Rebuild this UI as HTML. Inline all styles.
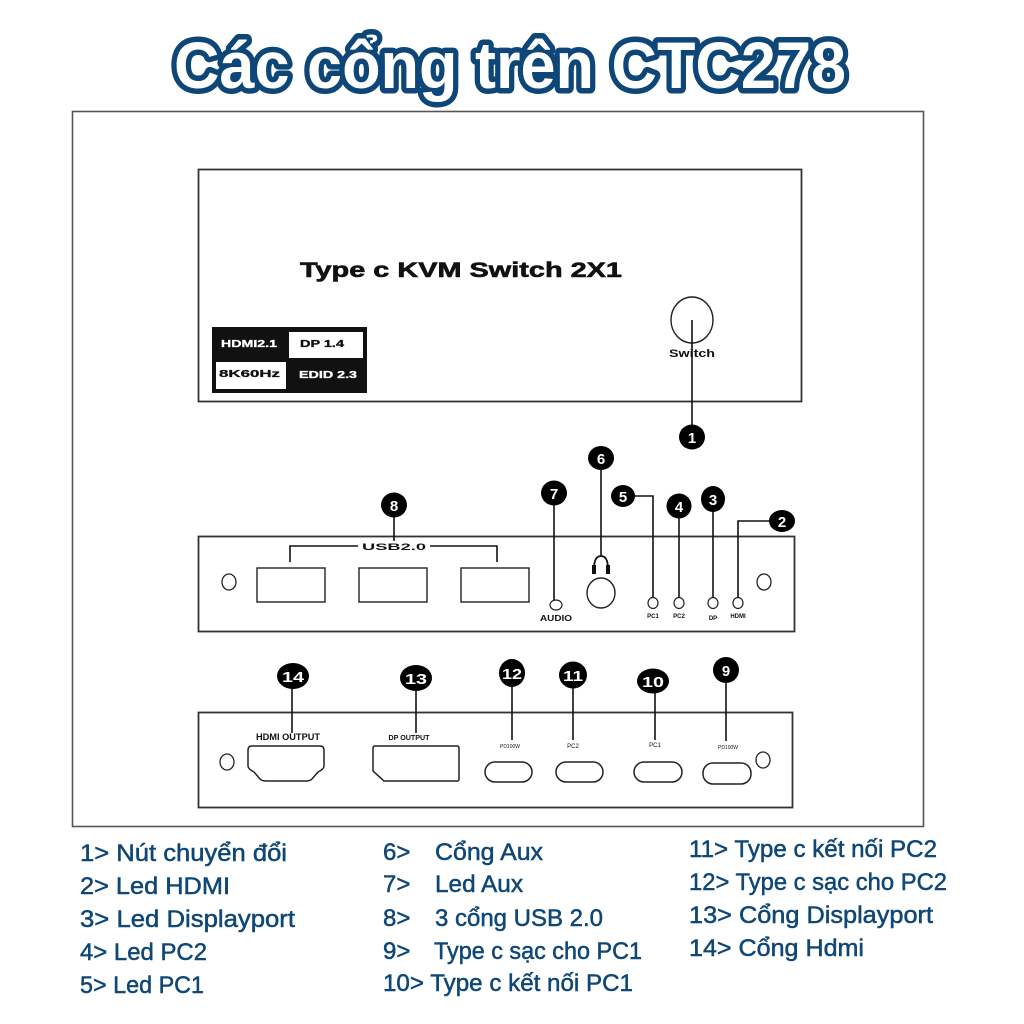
<!DOCTYPE html>
<html>
<head>
<meta charset="utf-8">
<style>
html,body{margin:0;padding:0;background:#fff;}
svg{display:block;}
.lg{font-family:"Liberation Sans","Noto Sans CJK SC",sans-serif;font-size:24px;fill:#0f4776;stroke:#0f4776;stroke-width:0.5px;}
.dv{font-family:"Liberation Sans",sans-serif;font-weight:bold;fill:#111;}
.bn{font-family:"Liberation Sans",sans-serif;font-weight:bold;fill:#fff;font-size:15px;text-anchor:middle;}
</style>
</head>
<body>
<svg width="1024" height="1024" viewBox="0 0 1024 1024" xmlns="http://www.w3.org/2000/svg">
<rect x="0" y="0" width="1024" height="1024" fill="#fff"/>

<!-- Title -->
<text x="510" y="88" text-anchor="middle" textLength="672" lengthAdjust="spacingAndGlyphs"
 font-family="'Liberation Sans','Noto Sans CJK SC',sans-serif" font-weight="bold" font-size="66"
 fill="#fff" stroke="#0d4677" stroke-width="11" stroke-linejoin="round" paint-order="stroke">Các cổng trên CTC278</text>

<!-- Outer frame -->
<rect x="72.5" y="111.5" width="851" height="715" fill="none" stroke="#555" stroke-width="1.6"/>

<!-- Top panel -->
<rect x="198.5" y="169.5" width="603" height="232" fill="none" stroke="#333" stroke-width="1.8"/>
<text class="dv" x="300" y="277" font-size="21" stroke="#111" stroke-width="0.6" textLength="322" lengthAdjust="spacingAndGlyphs">Type c KVM Switch 2X1</text>
<rect x="212" y="327" width="155" height="66" fill="#111"/>
<rect x="289" y="332" width="74" height="26" fill="#fff"/>
<rect x="216" y="362" width="70" height="27" fill="#fff"/>
<text class="dv" x="221" y="347" font-size="10" style="fill:#fff" stroke="#fff" stroke-width="0.3" textLength="56" lengthAdjust="spacingAndGlyphs">HDMI2.1</text>
<text class="dv" x="300" y="347" font-size="10" stroke="#111" stroke-width="0.3" textLength="44" lengthAdjust="spacingAndGlyphs">DP 1.4</text>
<text class="dv" x="219" y="377" font-size="10" stroke="#111" stroke-width="0.3" textLength="61" lengthAdjust="spacingAndGlyphs">8K60Hz</text>
<text class="dv" x="299" y="378" font-size="10" style="fill:#fff" stroke="#fff" stroke-width="0.3" textLength="58" lengthAdjust="spacingAndGlyphs">EDID 2.3</text>
<ellipse cx="692" cy="320" rx="21" ry="23" fill="none" stroke="#222" stroke-width="1.4"/>
<text class="dv" x="692" y="357" font-size="11" text-anchor="middle" textLength="46" lengthAdjust="spacingAndGlyphs">Switch</text>
<line x1="692" y1="320" x2="692" y2="426" stroke="#111" stroke-width="1.6"/>

<!-- Middle panel -->
<rect x="198.5" y="536.5" width="596" height="95" fill="none" stroke="#333" stroke-width="1.8"/>
<ellipse cx="229" cy="582" rx="7" ry="8" fill="none" stroke="#222" stroke-width="1.3"/>
<ellipse cx="764" cy="582" rx="7" ry="8" fill="none" stroke="#222" stroke-width="1.3"/>
<rect x="257" y="568" width="68" height="34" fill="none" stroke="#222" stroke-width="1.4"/>
<rect x="359" y="568" width="68" height="34" fill="none" stroke="#222" stroke-width="1.4"/>
<rect x="461" y="568" width="68" height="34" fill="none" stroke="#222" stroke-width="1.4"/>
<polyline points="290,562 290,546 358,546" fill="none" stroke="#111" stroke-width="1.6"/>
<polyline points="430,546 497,546 497,562" fill="none" stroke="#111" stroke-width="1.6"/>
<text class="dv" x="394" y="550" font-size="9" text-anchor="middle" textLength="64" lengthAdjust="spacingAndGlyphs">USB2.0</text>
<line x1="394" y1="517" x2="394" y2="541" stroke="#111" stroke-width="1.6"/>
<!-- audio led -->
<ellipse cx="556" cy="605" rx="6" ry="5" fill="none" stroke="#222" stroke-width="1.2"/>
<text class="dv" x="556" y="621" font-size="8" text-anchor="middle" textLength="32" lengthAdjust="spacingAndGlyphs">AUDIO</text>
<line x1="554" y1="505" x2="554" y2="600" stroke="#111" stroke-width="1.6"/>
<!-- headphone -->
<path d="M594,569 Q594,556 601,556 Q608,556 608,569" fill="none" stroke="#111" stroke-width="1.8"/>
<rect x="592" y="565" width="4" height="9" fill="#111"/>
<rect x="606" y="565" width="4" height="9" fill="#111"/>
<ellipse cx="601" cy="593" rx="14" ry="15" fill="none" stroke="#222" stroke-width="1.4"/>
<line x1="601" y1="470" x2="601" y2="556" stroke="#111" stroke-width="1.6"/>
<!-- LEDs -->
<ellipse cx="653" cy="603" rx="5" ry="5.5" fill="none" stroke="#222" stroke-width="1.2"/>
<ellipse cx="679" cy="603" rx="5" ry="5.5" fill="none" stroke="#222" stroke-width="1.2"/>
<ellipse cx="713" cy="603" rx="5" ry="5.5" fill="none" stroke="#222" stroke-width="1.2"/>
<ellipse cx="738" cy="603" rx="5" ry="5.5" fill="none" stroke="#222" stroke-width="1.2"/>
<text class="dv" x="653" y="618" font-size="6" text-anchor="middle">PC1</text>
<text class="dv" x="679" y="618" font-size="6" text-anchor="middle">PC2</text>
<text class="dv" x="713" y="620" font-size="6" text-anchor="middle">DP</text>
<text class="dv" x="738" y="618" font-size="6" text-anchor="middle">HDMI</text>
<polyline points="630,496 653,496 653,597" fill="none" stroke="#111" stroke-width="1.6"/>
<line x1="679" y1="518" x2="679" y2="597" stroke="#111" stroke-width="1.6"/>
<line x1="713" y1="511" x2="713" y2="597" stroke="#111" stroke-width="1.6"/>
<polyline points="775,521 738,521 738,597" fill="none" stroke="#111" stroke-width="1.6"/>

<!-- Bottom panel -->
<rect x="198.5" y="712.5" width="594" height="95" fill="none" stroke="#333" stroke-width="1.8"/>
<ellipse cx="227" cy="762" rx="7" ry="8" fill="none" stroke="#222" stroke-width="1.3"/>
<ellipse cx="763" cy="760" rx="7" ry="8" fill="none" stroke="#222" stroke-width="1.3"/>
<path d="M252,746 H320 Q324,746 324,750 V766 Q324,769 318,772 L312,779 Q310,781 306,781 H266 Q262,781 260,779 L254,772 Q248,769 248,766 V750 Q248,746 252,746 Z" fill="none" stroke="#222" stroke-width="1.5"/>
<path d="M375,746 H457 Q459,746 459,748 V779 Q459,781 457,781 H384 L373,771 V748 Q373,746 375,746 Z" fill="none" stroke="#222" stroke-width="1.5"/>
<rect x="485" y="762" width="47" height="20" rx="10" ry="10" fill="none" stroke="#222" stroke-width="1.5"/>
<rect x="556" y="762" width="47" height="20" rx="10" ry="10" fill="none" stroke="#222" stroke-width="1.5"/>
<rect x="634" y="762" width="48" height="20" rx="10" ry="10" fill="none" stroke="#222" stroke-width="1.5"/>
<rect x="703" y="763" width="48" height="21" rx="10" ry="10" fill="none" stroke="#222" stroke-width="1.5"/>
<text class="dv" x="288" y="740" font-size="9" text-anchor="middle" textLength="64" lengthAdjust="spacingAndGlyphs">HDMI OUTPUT</text>
<text class="dv" x="409" y="740" font-size="7" text-anchor="middle" textLength="41" lengthAdjust="spacingAndGlyphs">DP OUTPUT</text>
<text class="dv" x="510" y="748" font-size="5" text-anchor="middle" style="font-weight:normal">PD100W</text>
<text class="dv" x="573" y="748" font-size="6" text-anchor="middle" style="font-weight:normal">PC2</text>
<text class="dv" x="655" y="747" font-size="6" text-anchor="middle" style="font-weight:normal">PC1</text>
<text class="dv" x="728" y="749" font-size="5" text-anchor="middle" style="font-weight:normal">PD100W</text>
<line x1="292" y1="688" x2="292" y2="733" stroke="#111" stroke-width="1.6"/>
<line x1="416" y1="690" x2="416" y2="733" stroke="#111" stroke-width="1.6"/>
<line x1="512" y1="684" x2="512" y2="740" stroke="#111" stroke-width="1.6"/>
<line x1="573" y1="687" x2="573" y2="740" stroke="#111" stroke-width="1.6"/>
<line x1="655" y1="692" x2="655" y2="740" stroke="#111" stroke-width="1.6"/>
<line x1="726" y1="682" x2="726" y2="741" stroke="#111" stroke-width="1.6"/>

<!-- Badges -->
<g>
<ellipse cx="692" cy="437" rx="13" ry="12.5" fill="#000"/><text class="bn" x="692" y="443">1</text>
<ellipse cx="601" cy="458" rx="13" ry="12" fill="#000"/><text class="bn" x="601" y="464">6</text>
<ellipse cx="554" cy="493" rx="13" ry="12.5" fill="#000"/><text class="bn" x="554" y="499">7</text>
<ellipse cx="623" cy="496" rx="12" ry="11" fill="#000"/><text class="bn" x="623" y="502">5</text>
<ellipse cx="679" cy="506" rx="12.5" ry="12.5" fill="#000"/><text class="bn" x="679" y="512">4</text>
<ellipse cx="713" cy="499" rx="12" ry="13" fill="#000"/><text class="bn" x="713" y="505">3</text>
<ellipse cx="782" cy="521" rx="13" ry="11" fill="#000"/><text class="bn" x="782" y="527">2</text>
<ellipse cx="394" cy="505" rx="13" ry="12.5" fill="#000"/><text class="bn" x="394" y="511">8</text>
<ellipse cx="293" cy="676" rx="16" ry="13" fill="#000"/><text class="bn" x="293" y="682" textLength="22" lengthAdjust="spacingAndGlyphs">14</text>
<ellipse cx="416" cy="678" rx="16" ry="13" fill="#000"/><text class="bn" x="416" y="684" textLength="22" lengthAdjust="spacingAndGlyphs">13</text>
<ellipse cx="512" cy="673" rx="13" ry="14" fill="#000"/><text class="bn" x="512" y="679" textLength="20" lengthAdjust="spacingAndGlyphs">12</text>
<ellipse cx="573" cy="675" rx="14" ry="13.5" fill="#000"/><text class="bn" x="573" y="681" textLength="20" lengthAdjust="spacingAndGlyphs">11</text>
<ellipse cx="653" cy="681" rx="16" ry="12.5" fill="#000"/><text class="bn" x="653" y="687" textLength="22" lengthAdjust="spacingAndGlyphs">10</text>
<ellipse cx="726" cy="670" rx="13" ry="13" fill="#000"/><text class="bn" x="726" y="676">9</text>
</g>

<!-- Legend column 1 -->
<text class="lg" x="80" y="861" textLength="207" lengthAdjust="spacingAndGlyphs">1&gt; Nút chuyển đổi</text>
<text class="lg" x="80" y="894" textLength="150" lengthAdjust="spacingAndGlyphs">2&gt; Led HDMI</text>
<text class="lg" x="80" y="927" textLength="215" lengthAdjust="spacingAndGlyphs">3&gt; Led Displayport</text>
<text class="lg" x="80" y="960" textLength="127" lengthAdjust="spacingAndGlyphs">4&gt; Led PC2</text>
<text class="lg" x="80" y="993" textLength="124" lengthAdjust="spacingAndGlyphs">5&gt; Led PC1</text>

<!-- Legend column 2 -->
<text class="lg" x="383" y="860">6&gt;</text>
<text class="lg" x="435" y="860" textLength="108" lengthAdjust="spacingAndGlyphs">Cổng Aux</text>
<text class="lg" x="383" y="892">7&gt;</text>
<text class="lg" x="435" y="892" textLength="88" lengthAdjust="spacingAndGlyphs">Led Aux</text>
<text class="lg" x="383" y="926">8&gt;</text>
<text class="lg" x="435" y="926" textLength="168" lengthAdjust="spacingAndGlyphs">3 cổng USB 2.0</text>
<text class="lg" x="383" y="959">9&gt;</text>
<text class="lg" x="434" y="959" textLength="208" lengthAdjust="spacingAndGlyphs">Type c sạc cho PC1</text>
<text class="lg" x="383" y="991" textLength="250" lengthAdjust="spacingAndGlyphs">10&gt; Type c kết nối PC1</text>

<!-- Legend column 3 -->
<text class="lg" x="689" y="857" textLength="248" lengthAdjust="spacingAndGlyphs">11&gt; Type c kết nối PC2</text>
<text class="lg" x="689" y="890" textLength="258" lengthAdjust="spacingAndGlyphs">12&gt; Type c sạc cho PC2</text>
<text class="lg" x="689" y="923" textLength="244" lengthAdjust="spacingAndGlyphs">13&gt; Cổng Displayport</text>
<text class="lg" x="689" y="956" textLength="175" lengthAdjust="spacingAndGlyphs">14&gt; Cổng Hdmi</text>
</svg>
</body>
</html>
